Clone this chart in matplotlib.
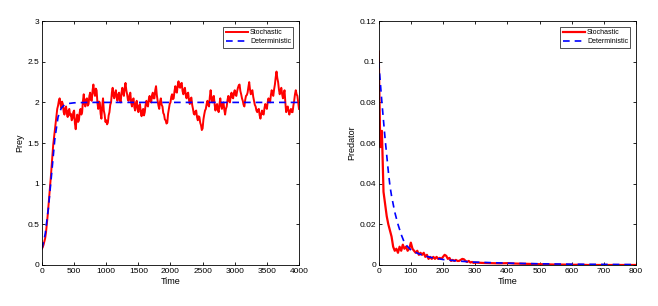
import numpy as np
import matplotlib
matplotlib.use("Agg")
import matplotlib.pyplot as plt

plt.rcParams['font.family'] = ['Liberation Sans', 'DejaVu Sans']

# prey, left panel (time 0..4000, uniform grid)
prey_rise = [
    0.20, 0.22, 0.25, 0.29, 0.33, 0.40, 0.50, 0.60, 0.72, 0.83, 0.95, 1.08,
    1.22, 1.35, 1.48, 1.57, 1.65, 1.76, 1.85, 1.92, 1.96, 2.02, 2.05, 1.98,
]
prey_plateau = [
    1.93, 2.01, 1.98, 1.88, 1.85, 1.93, 1.95, 1.86, 1.82, 1.90, 1.92, 1.84,
    1.86, 1.78, 1.80, 1.88, 1.90, 1.74, 1.67, 1.79, 1.85, 1.76, 1.78, 1.88,
    1.92, 1.85, 1.88, 2.02, 2.10, 1.98, 1.95, 2.04, 2.05, 1.96, 1.98, 2.08,
    2.12, 2.03, 2.02, 2.15, 2.22, 2.12, 2.08, 2.17, 2.15, 2.00, 1.92, 2.01,
    2.00, 1.86, 1.80, 1.96, 2.05, 1.90, 1.85, 1.76, 1.78, 1.73, 1.75, 1.84,
    1.88, 1.97, 2.00, 2.12, 2.18, 2.08, 2.05, 2.12, 2.15, 2.06, 2.02, 2.10,
    2.12, 2.03, 2.00, 2.12, 2.18, 2.11, 2.08, 2.18, 2.24, 2.15, 2.10, 2.03,
    2.02, 2.09, 2.12, 2.00, 1.95, 2.03, 2.05, 1.94, 1.90, 1.99, 2.02, 1.92,
    1.88, 1.96, 1.98, 1.88, 1.83, 1.90, 1.92, 1.84, 1.88, 1.97, 2.02, 1.96,
    1.95, 2.04, 2.08, 2.01, 2.00, 2.09, 2.12, 2.05, 2.05, 2.15, 2.20, 2.09,
    2.02, 1.96, 1.92, 2.01, 2.05, 1.97, 1.95, 1.87, 1.85, 1.79, 1.78, 1.74,
    1.75, 1.86, 1.92, 1.98, 2.00, 2.07, 2.10, 2.04, 2.05, 2.14, 2.20, 2.13,
    2.12, 2.21, 2.26, 2.19, 2.18, 2.23, 2.24, 2.14, 2.10, 2.16, 2.18, 2.09,
    2.05, 2.11, 2.12, 2.03, 1.98, 2.04, 2.06, 1.97, 1.92, 1.86, 1.85, 1.89,
    1.90, 1.82, 1.78, 1.83, 1.82, 1.75, 1.72, 1.66, 1.68, 1.79, 1.85, 1.90,
    1.92, 1.98, 2.02, 1.97, 1.95, 2.07, 2.15, 2.05, 2.00, 2.06, 2.08, 1.97,
    1.90, 1.96, 1.98, 1.91, 1.88, 1.98, 2.05, 1.96, 1.92, 1.98, 2.00, 1.91,
    1.85, 1.92, 1.95, 2.03, 2.08, 2.02, 2.00, 2.08, 2.12, 2.06, 2.05, 2.12,
    2.15, 2.09, 2.08, 2.14, 2.18, 2.21, 2.22, 2.14, 2.10, 2.05, 2.02, 1.97,
    1.95, 2.03, 2.08, 2.09, 2.12, 2.19, 2.25, 2.16, 2.10, 2.14, 2.15, 2.07,
    2.02, 1.97, 1.95, 1.90, 1.88, 1.91, 1.92, 1.84, 1.80, 1.86, 1.90, 1.86,
    1.85, 1.93, 1.98, 1.94, 1.92, 2.00, 2.05, 2.01, 2.00, 2.09, 2.15, 2.10,
    2.08, 2.16, 2.22, 2.31, 2.38, 2.30, 2.25, 2.16, 2.10, 2.15, 2.18, 2.10,
    2.05, 2.11, 2.15, 2.00, 1.88, 1.93, 1.95, 1.89, 1.85, 1.90, 1.92, 1.88,
    1.88, 1.96, 2.02, 2.10, 2.15, 2.10, 2.08, 2.00, 1.92,
]
prey_det_t = [0, 50, 100, 150, 200, 250, 300, 350, 400, 500, 700, 1000, 4000]
prey_det = [0.20, 0.38, 0.70, 1.12, 1.55, 1.82, 1.93, 1.97, 1.985, 1.995, 2.0, 2.0, 2.0]

# predator, right panel (time 0..300 uniform, then tail)
pred_stoch_head = [
    0.105, 0.058, 0.066, 0.036, 0.030, 0.024, 0.020, 0.017, 0.014, 0.009,
    0.007, 0.008, 0.006, 0.009, 0.007, 0.010, 0.008, 0.009, 0.007, 0.008,
    0.011, 0.008, 0.007, 0.006, 0.007, 0.005, 0.006, 0.005, 0.006, 0.004,
    0.005, 0.003, 0.004, 0.003, 0.004, 0.003, 0.004, 0.003, 0.0035, 0.003,
    0.004, 0.005, 0.0045, 0.003, 0.0035, 0.002, 0.0025, 0.002, 0.0025, 0.002,
    0.002, 0.0025, 0.003, 0.0028, 0.002, 0.0015, 0.002, 0.0012, 0.0015, 0.001,
    0.0012,
]
pred_tail_t = [325, 350, 375, 400, 425, 450, 475, 500, 525, 550, 575, 600,
               625, 650, 675, 700, 725, 750, 775, 800]
pred_tail = [0.001, 0.0009, 0.0008, 0.0009, 0.0007, 0.0006, 0.0005, 0.0004,
             0.0003, 0.0002, 0.0002, 0.0001, 0.0001, 0.0, 0.0, 0.0, 0.0, 0.0,
             0.0, 0.0]
pred_det_t = [0, 5, 10, 15, 20, 25, 30, 35, 40, 45, 50, 55, 60, 70, 80, 90,
              100, 120, 140, 160, 200, 250, 300, 400, 500, 600, 700, 800]
pred_det = [0.100, 0.090, 0.080, 0.071, 0.062, 0.054, 0.046, 0.039, 0.034,
            0.030, 0.026, 0.023, 0.020, 0.015, 0.011, 0.009, 0.0075, 0.0058,
            0.0046, 0.0038, 0.0027, 0.0019, 0.0014, 0.0009, 0.0006, 0.0004,
            0.0003, 0.0002]

prey_xticks = [0, 500, 1000, 1500, 2000, 2500, 3000, 3500, 4000]
prey_yticks = [0, 0.5, 1, 1.5, 2, 2.5, 3]
prey_ylabels = ['0', '0.5', '1', '1.5', '2', '2.5', '3']
pred_xticks = [0, 100, 200, 300, 400, 500, 600, 700, 800]
pred_yticks = [0, 0.02, 0.04, 0.06, 0.08, 0.1, 0.12]
pred_ylabels = ['0', '0.02', '0.04', '0.06', '0.08', '0.1', '0.12']


def style(ax, xticks, yticks, ylabels, ylab):
    ax.set_xticks(xticks)
    ax.set_xticklabels([str(v) for v in xticks])
    ax.set_yticks(yticks)
    ax.set_yticklabels(ylabels)
    ax.tick_params(direction='in', top=True, right=True, length=2.5,
                   width=0.6, labelsize=6, pad=2)
    for s in ax.spines.values():
        s.set_linewidth(0.6)
    ax.set_xlabel('Time', fontsize=6.5, labelpad=1.5)
    ax.set_ylabel(ylab, fontsize=6.5, labelpad=2)
    leg = ax.legend(loc='upper right', fontsize=5, frameon=True, fancybox=False,
                    handlelength=3.2, handletextpad=0.3, borderpad=0.35,
                    labelspacing=0.3, borderaxespad=0.8)
    leg.get_frame().set_edgecolor('black')
    leg.get_frame().set_linewidth(0.6)


fig = plt.figure(figsize=(6.58, 3.06), dpi=100)
ax1 = fig.add_axes([0.0638, 0.134, 0.3906, 0.797])
ax2 = fig.add_axes([0.5755, 0.134, 0.3911, 0.797])

prey_stoch = prey_rise + prey_plateau
t1 = np.linspace(0, 4000, len(prey_stoch))
ax1.plot(t1, prey_stoch, color='red', lw=1.4, label='Stochastic')
ax1.plot(prey_det_t, prey_det, color='blue', lw=1.2, ls=(0, (4, 3)), label='Deterministic')
ax1.set_xlim(0, 4000)
ax1.set_ylim(0, 3)
style(ax1, prey_xticks, prey_yticks, prey_ylabels, 'Prey')

t2 = list(np.linspace(0, 300, len(pred_stoch_head))) + pred_tail_t
ax2.plot(t2, pred_stoch_head + pred_tail, color='red', lw=1.6, label='Stochastic')
ax2.plot(pred_det_t, pred_det, color='blue', lw=1.2, ls=(0, (4, 3)), label='Deterministic')
ax2.set_xlim(0, 800)
ax2.set_ylim(0, 0.12)
style(ax2, pred_xticks, pred_yticks, pred_ylabels, 'Predator')

fig.savefig('out.png', dpi=100)
